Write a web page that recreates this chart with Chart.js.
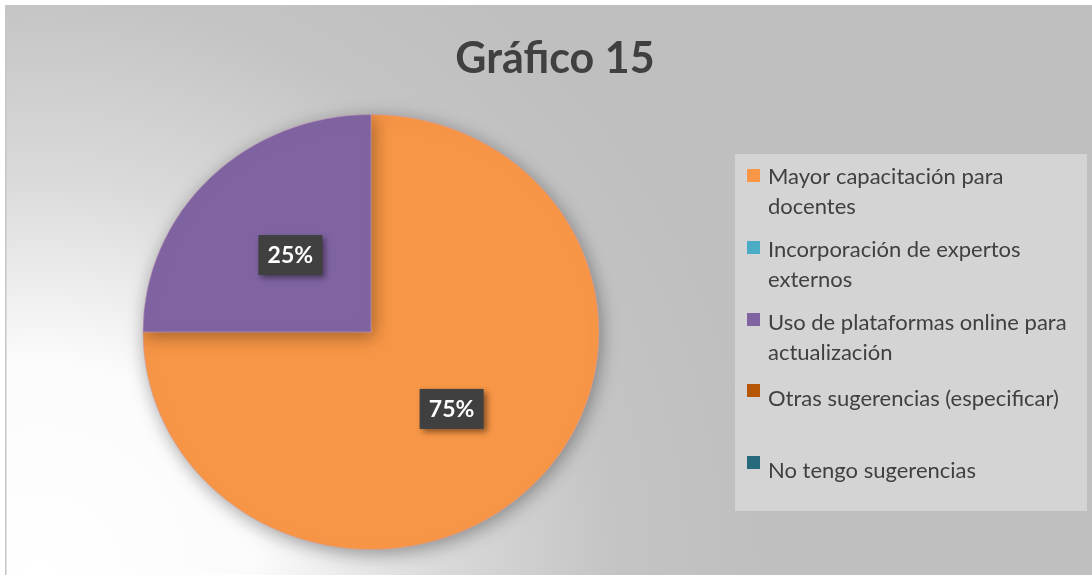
<!DOCTYPE html>
<html>
<head>
<meta charset="utf-8">
<script src="https://cdn.jsdelivr.net/npm/chart.js@4.4.1/dist/chart.umd.min.js"></script>
<style>
  html, body { margin: 0; padding: 0; background: #fff; }
  #wrap { width: 1092px; height: 575px; }
</style>
</head>
<body>
<div id="wrap"><canvas id="chart" width="1092" height="575"></canvas></div>
<script>
// chart data
const chartTitle = 'Gráfico 15';
const categories = [
  ['Mayor capacitación para', 'docentes'],
  ['Incorporación de expertos', 'externos'],
  ['Uso de plataformas online para', 'actualización'],
  ['Otras sugerencias (especificar)'],
  ['No tengo sugerencias']
];
const values = [75, 0, 25, 0, 0];
const sliceColors = ['#f79646', '#4bacc6', '#8064a2', '#b65708', '#276a7c'];

const textColor = '#404040';
const fontFam = 'Lato, "Open Sans", sans-serif';
const stretchX = 1.048; // the original pie is slightly wider than tall

function pieCenter(chart) {
  const a = chart.chartArea;
  return { x: (a.left + a.right) / 2, y: (a.top + a.bottom) / 2 };
}

// gray panel with light corner bottom-left
const backgroundPlugin = {
  id: 'bg',
  beforeDraw(chart) {
    const ctx = chart.ctx;
    ctx.save();
    ctx.fillStyle = '#ffffff';
    ctx.fillRect(0, 0, chart.width, chart.height);
    const g = ctx.createRadialGradient(40, 575, 0, 40, 575, 720);
    g.addColorStop(0, '#ffffff');
    g.addColorStop(0.3, '#fbfbfb');
    g.addColorStop(0.55, '#dadada');
    g.addColorStop(0.8, '#c4c4c4');
    g.addColorStop(1, '#bfbfbf');
    ctx.fillStyle = g;
    ctx.fillRect(6, 5, chart.width - 6, chart.height - 5);
    ctx.fillStyle = '#c6c6c6';
    ctx.fillRect(5, 5, 1.5, chart.height - 5);

    // title
    ctx.fillStyle = textColor;
    ctx.font = 'bold 43px ' + fontFam;
    ctx.textAlign = 'center';
    ctx.textBaseline = 'middle';
    ctx.fillText(chartTitle, 555, 59);
    ctx.restore();
  },
  beforeDatasetsDraw(chart) {
    const ctx = chart.ctx;
    const c = pieCenter(chart);
    ctx.save();
    ctx.translate(c.x, c.y);
    ctx.scale(stretchX, 1);
    ctx.translate(-c.x, -c.y);
    ctx.shadowColor = 'rgba(0,0,0,0.35)';
    ctx.shadowBlur = 18;
    ctx.shadowOffsetX = 2;
    ctx.shadowOffsetY = 4;
  },
  afterDatasetsDraw(chart) {
    chart.ctx.restore();
  }
};

// percentage boxes on the slices
const sliceLabelPlugin = {
  id: 'sliceLabels',
  afterDatasetsDraw(chart) {
    const ctx = chart.ctx;
    const data = chart.data.datasets[0].data;
    const total = data.reduce((a, b) => a + b, 0);
    const meta = chart.getDatasetMeta(0);
    const c = pieCenter(chart);
    ctx.save();
    ctx.font = 'bold 23px ' + fontFam;
    ctx.textAlign = 'center';
    ctx.textBaseline = 'middle';
    meta.data.forEach((arc, i) => {
      if (!data[i]) return;
      const p = arc.tooltipPosition();
      const x = c.x + (p.x - c.x) * stretchX;
      const y = p.y;
      const txt = Math.round(data[i] / total * 100) + '%';
      const w = 64, h = 40;
      ctx.save();
      ctx.shadowColor = 'rgba(0,0,0,0.45)';
      ctx.shadowBlur = 6;
      ctx.shadowOffsetX = 3;
      ctx.shadowOffsetY = 3;
      ctx.fillStyle = '#404040';
      ctx.fillRect(x - w / 2, y - h / 2, w, h);
      ctx.restore();
      ctx.fillStyle = '#ffffff';
      ctx.fillText(txt, x, y + 1);
    });
    ctx.restore();
  }
};

// legend panel on the right
const legendPanelPlugin = {
  id: 'legendPanel',
  afterDraw(chart) {
    const ctx = chart.ctx;
    const labels = chart.data.labels;
    const colors = chart.data.datasets[0].backgroundColor;
    ctx.save();
    ctx.fillStyle = '#d4d4d4';
    ctx.fillRect(735, 154, 352, 357);
    ctx.font = '22px ' + fontFam;
    ctx.textAlign = 'left';
    ctx.textBaseline = 'middle';
    const boxTops = [169, 241, 313, 384, 456];
    const textTops = [177, 250, 323, 399, 471];
    labels.forEach((lines, i) => {
      ctx.fillStyle = colors[i];
      ctx.fillRect(747, boxTops[i], 13, 13);
      ctx.fillStyle = textColor;
      lines.forEach((ln, j) => {
        ctx.fillText(ln, 768, textTops[i] + j * 30);
      });
    });
    ctx.restore();
  }
};

new Chart(document.getElementById('chart'), {
  type: 'pie',
  data: {
    labels: categories,
    datasets: [{
      data: values,
      backgroundColor: sliceColors,
      borderWidth: 0.8,
      borderColor: 'rgba(205,160,185,0.6)'
    }]
  },
  options: {
    responsive: false,
    animation: false,
    layout: { padding: { top: 114, bottom: 25, left: 153, right: 503 } },
    plugins: {
      legend: { display: false },
      tooltip: { enabled: false }
    }
  },
  plugins: [backgroundPlugin, sliceLabelPlugin, legendPanelPlugin]
});
</script>
</body>
</html>
